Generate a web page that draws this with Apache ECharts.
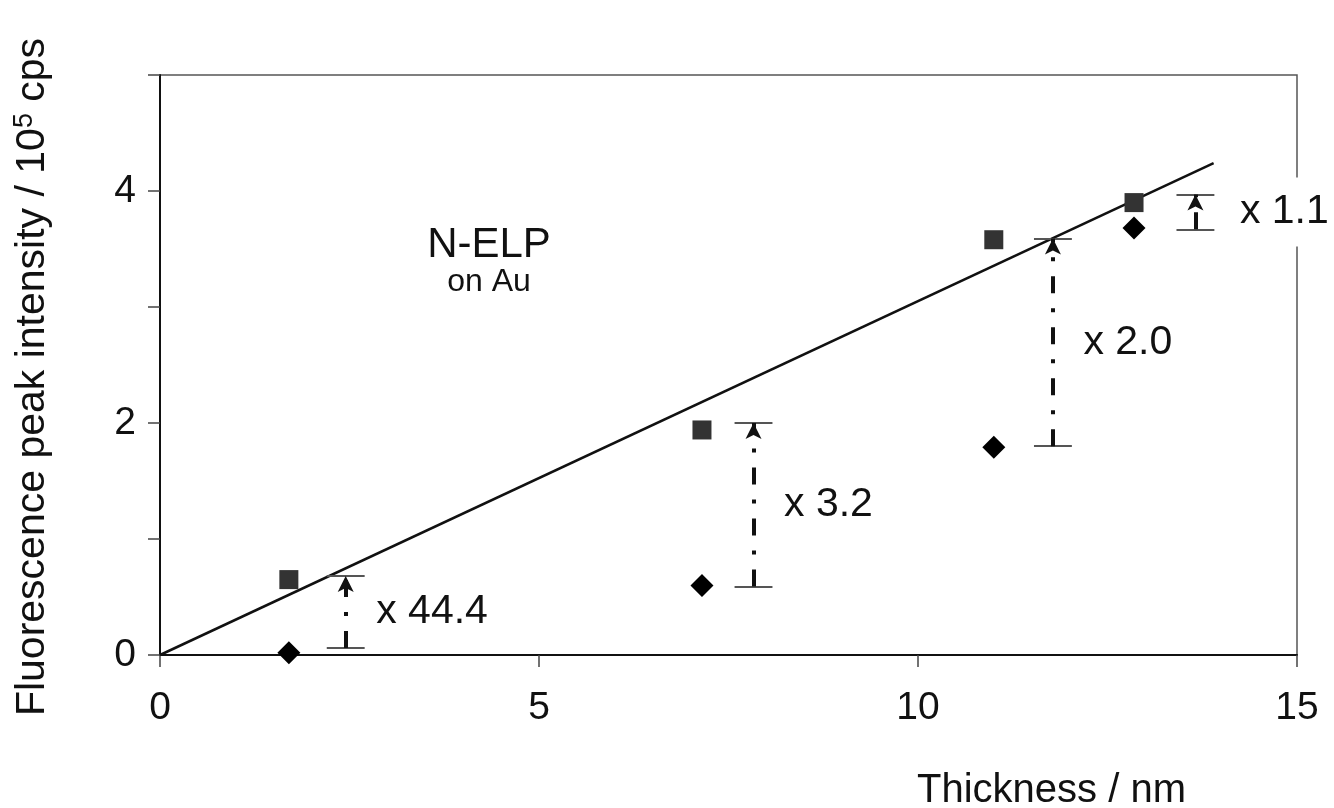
<!DOCTYPE html>
<html>
<head>
<meta charset="utf-8">
<title>N-ELP on Au</title>
<script src="https://cdn.jsdelivr.net/npm/echarts@6/dist/echarts.min.js"></script>
<style>
  html, body { margin: 0; padding: 0; background: #fff; }
  #chart { width: 1334px; height: 808px; }
</style>
</head>
<body>
<div id="chart"></div>
<script>
// Film thickness (nm) and fluorescence peak intensity (10^5 cps)
const thickness = [1.7, 7.15, 11.0, 12.85];
const intensitySquare = [0.65, 1.94, 3.58, 3.90];
const intensityDiamond = [0.02, 0.60, 1.79, 3.68];

// Linear fit through the origin
const fitX = [0, 13.9];
const fitY = [0, 4.24];

// Enhancement brackets: position, lower and upper level, ratio text
const bracketX = [2.45, 7.83, 11.78, 13.66];
const bracketLow = [0.06, 0.59, 1.80, 3.67];
const bracketHigh = [0.68, 2.00, 3.59, 3.97];
const ratioLabels = ['x 44.4', 'x 3.2', 'x 2.0', 'x 1.1'];

// Axis settings
const xTickValues = [0, 5, 10, 15];
const yLabelValues = [0, 2, 4];

const FONT = '"Liberation Sans", Arial, Helvetica, sans-serif';
const BAR_HALF = 0.25;

const chart = echarts.init(document.getElementById('chart'), null, { renderer: 'canvas' });

const pairs = (xs, ys) => xs.map((x, i) => [x, ys[i]]);

// Bracket pieces drawn as mark lines in data coordinates
const bracketLines = [];
bracketX.forEach((x, i) => {
  const barStyle = { color: '#555', width: 2, type: 'solid' };
  bracketLines.push([
    { coord: [x - BAR_HALF, bracketHigh[i]], symbol: 'none', lineStyle: barStyle },
    { coord: [x + BAR_HALF, bracketHigh[i]], symbol: 'none' }
  ]);
  bracketLines.push([
    { coord: [x - BAR_HALF, bracketLow[i]], symbol: 'none', lineStyle: barStyle },
    { coord: [x + BAR_HALF, bracketLow[i]], symbol: 'none' }
  ]);
  bracketLines.push([
    { coord: [x, bracketLow[i]], symbol: 'none',
      lineStyle: { color: '#111', width: 4, type: [17, 15, 4, 15], cap: 'butt' } },
    { coord: [x, bracketHigh[i]], symbol: 'arrow', symbolSize: [12, 16], symbolOffset: [0, 0] }
  ]);
});

// Ratio labels sit beside each bracket, at its mid-height
const ratioPoints = bracketX.map((x, i) => ({
  value: [x, (bracketLow[i] + bracketHigh[i]) / 2],
  label: i === 3
    ? { distance: 38, backgroundColor: '#fff', padding: [14, 6, 14, 6] }
    : { distance: 30 }
}));

const option = {
  backgroundColor: '#fff',
  animation: false,
  grid: {
    left: 160, right: 37, top: 75, bottom: 153,
    show: true, borderColor: '#555', borderWidth: 1.5, backgroundColor: 'transparent'
  },
  xAxis: {
    type: 'value', min: 0, max: 15, interval: 5,
    axisLine: { show: true, onZero: false, lineStyle: { color: '#111', width: 2 } },
    axisTick: { show: true, inside: false, length: 12, lineStyle: { color: '#444', width: 1.5 } },
    axisLabel: { fontSize: 39, color: '#111', fontFamily: FONT, margin: 34,
      formatter: v => (xTickValues.includes(v) ? String(v) : '') },
    splitLine: { show: false }
  },
  yAxis: {
    type: 'value', min: 0, max: 5, interval: 1,
    axisLine: { show: true, onZero: false, lineStyle: { color: '#111', width: 2 } },
    axisTick: { show: true, inside: false, length: 12, lineStyle: { color: '#444', width: 1.5 } },
    axisLabel: { fontSize: 39, color: '#111', fontFamily: FONT, margin: 24,
      formatter: v => (yLabelValues.includes(v) ? String(v) : '') },
    splitLine: { show: false }
  },
  graphic: [
    { type: 'text', x: 33, y: 377, rotation: Math.PI / 2,
      style: {
        text: '{a|Fluorescence peak intensity / 10}{s|5}{a| cps}',
        align: 'center', verticalAlign: 'middle',
        rich: {
          a: { fontSize: 41, fill: '#111', fontFamily: FONT, lineHeight: 44 },
          s: { fontSize: 27, fill: '#111', fontFamily: FONT, verticalAlign: 'top', lineHeight: 44 }
        }
      } },
    { type: 'text', left: 917, top: 771,
      style: { text: 'Thickness / nm', fontSize: 40, fontFamily: FONT, fill: '#111' } },
    { type: 'text', x: 489, y: 245,
      style: { text: 'N-ELP', fontSize: 42, fontFamily: FONT, fill: '#111',
        align: 'center', verticalAlign: 'middle' } },
    { type: 'text', x: 489, y: 282,
      style: { text: 'on Au', fontSize: 32, fontFamily: FONT, fill: '#111',
        align: 'center', verticalAlign: 'middle' } }
  ],
  series: [
    {
      name: 'fit', type: 'line', data: pairs(fitX, fitY),
      showSymbol: false, symbol: 'none',
      lineStyle: { color: '#111', width: 2.5 }, z: 2
    },
    {
      name: 'square', type: 'scatter', data: pairs(thickness, intensitySquare),
      symbol: 'rect', symbolSize: 19,
      itemStyle: { color: '#333', opacity: 1 }, z: 3
    },
    {
      name: 'diamond', type: 'scatter', data: pairs(thickness, intensityDiamond),
      symbol: 'diamond', symbolSize: [23, 23],
      itemStyle: { color: '#000', opacity: 1 }, z: 3
    },
    {
      name: 'brackets', type: 'scatter', data: [],
      markLine: {
        silent: true, animation: false,
        symbol: ['none', 'none'],
        label: { show: false },
        emphasis: { disabled: true },
        data: bracketLines
      }, z: 4
    },
    {
      name: 'ratios', type: 'scatter', symbol: 'circle', symbolSize: 1,
      itemStyle: { color: 'rgba(0,0,0,0)', opacity: 1 },
      data: ratioPoints,
      label: {
        show: true, position: 'right', fontSize: 41, color: '#111', opacity: 1,
        fontFamily: FONT,
        formatter: p => ratioLabels[p.dataIndex]
      },
      labelLayout: { hideOverlap: false },
      z: 10
    }
  ]
};

chart.setOption(option);
</script>
</body>
</html>
